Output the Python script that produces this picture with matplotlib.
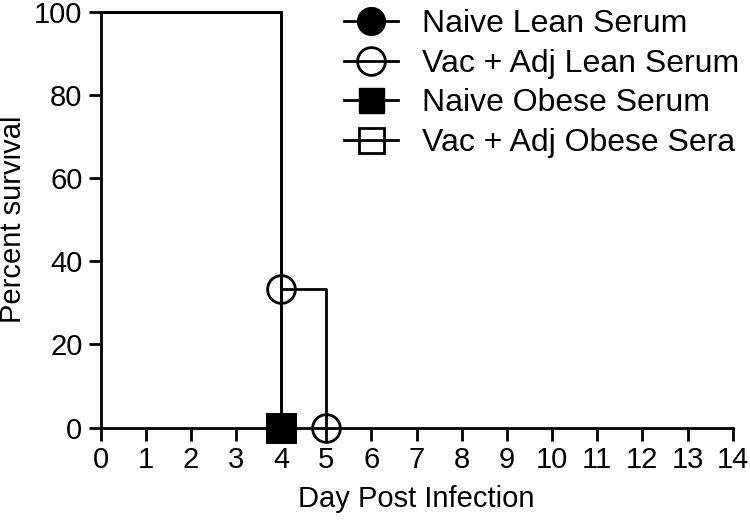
import matplotlib
matplotlib.use("Agg")
import matplotlib.pyplot as plt
from matplotlib.lines import Line2D

plt.rcParams['font.family'] = ['Liberation Sans', 'DejaVu Sans']

# survival data (day, percent surviving)
naive_lean_t = [0, 4]
naive_lean_s = [100, 0]
vac_lean_t = [0, 4, 5]
vac_lean_s = [100, 33.3, 0]
naive_obese_t = [0, 4]
naive_obese_s = [100, 0]
vac_obese_t = [0, 4]
vac_obese_s = [100, 0]

labels = ["Naive Lean Serum", "Vac + Adj Lean Serum",
          "Naive Obese Serum", "Vac + Adj Obese Sera"]
x_ticks = list(range(0, 15))
y_ticks = [0, 20, 40, 60, 80, 100]

fig = plt.figure(figsize=(7.5, 5.28), dpi=100)
ax = fig.add_axes([0.134, 0.19, 0.843, 0.788])

groups = [
    (vac_obese_t, vac_obese_s, 's', 'none'),
    (naive_lean_t, naive_lean_s, 'o', 'full'),
    (vac_lean_t, vac_lean_s, 'o', 'none'),
    (naive_obese_t, naive_obese_s, 's', 'full'),
]
for t, s, mk, fs in groups:
    ax.plot(t, s, drawstyle='steps-post', color='black', lw=2, clip_on=False, zorder=3)
    ax.plot(t[1:], s[1:], ls='none', marker=mk, ms=20, color='black',
            fillstyle=fs, markeredgewidth=2, clip_on=False, zorder=4)

handles = [
    Line2D([], [], color='black', lw=2, marker='o', ms=20, fillstyle='full'),
    Line2D([], [], color='black', lw=2, marker='o', ms=20, fillstyle='none', markeredgewidth=2),
    Line2D([], [], color='black', lw=2, marker='s', ms=18, fillstyle='full'),
    Line2D([], [], color='black', lw=2, marker='s', ms=18, fillstyle='none', markeredgewidth=2),
]
ax.legend(handles, labels, loc='upper left', bbox_to_anchor=(0.385, 1.006),
          frameon=False, fontsize=23, handlelength=1.7, handletextpad=0.75,
          labelspacing=0.3, borderaxespad=0, borderpad=0)

ax.set_xlim(0, 14)
ax.set_ylim(0, 100)
ax.set_xticks(x_ticks)
ax.set_yticks(y_ticks)
ax.spines['top'].set_visible(False)
ax.spines['right'].set_visible(False)
for sp in ['left', 'bottom']:
    ax.spines[sp].set_linewidth(2)
ax.tick_params(width=2, length=9, labelsize=21, pad=4)
ax.set_xlabel("Day Post Infection", fontsize=21, labelpad=8)
ax.set_ylabel("Percent survival", fontsize=21, labelpad=5)

fig.savefig("out.png", dpi=100)
